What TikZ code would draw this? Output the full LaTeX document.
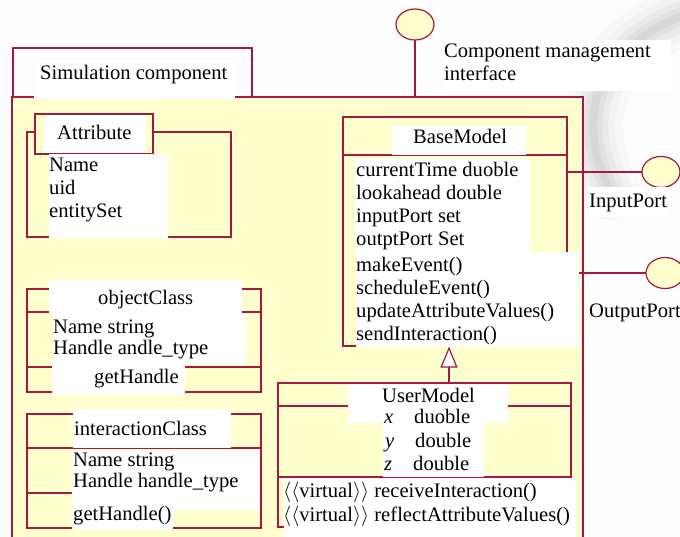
\documentclass[tikz,border=0pt]{standalone}
\usepackage{fontspec}
\setmainfont{Liberation Serif}
\usetikzlibrary{shapes.geometric,arrows.meta}
\definecolor{umlline}{RGB}{165,24,66}
\definecolor{umlfill}{RGB}{255,255,206}
\definecolor{paper}{RGB}{253,253,253}
\begin{document}
\begin{tikzpicture}[x=1pt,y=-1pt,
  frame/.style={draw=umlline, line width=1.2pt, fill=umlfill, inner sep=0pt, outer sep=0pt, anchor=north west},
  plate/.style={fill=white, inner sep=0pt, outer sep=0pt, anchor=north west},
  txt/.style={inner sep=0pt, anchor=base west, font=\fontsize{20.6}{23}\selectfont},
  wire/.style={draw=umlline, line width=1.2pt},
  port/.style={ellipse, draw=umlline, line width=1.2pt, fill=umlfill, minimum width=38pt, minimum height=31pt, inner sep=0pt, outer sep=0pt},
  inherit/.style={wire, -{Triangle[fill=white, length=21pt, width=17pt, line width=1.2pt]}},
  haze/.style={draw=black, line cap=round}]
\fill[paper] (0,0) rectangle (680,537);
\useasboundingbox (0,0) rectangle (680,537);

% soft grey swoosh in the paper background
\foreach \w/\o in {60/0.02, 44/0.025, 30/0.03, 18/0.035, 8/0.04}
  \draw[haze, line width=\w pt, opacity=\o]
    (700,10) .. controls (630,30) and (560,90) .. (610,190);

% component package with its tab
\node[frame, fill=paper, minimum width=239, minimum height=49] (tab) at (13,48) {};
\node[frame, minimum width=571, minimum height=445] (comp) at (12,97) {};
\node[plate, minimum width=201, minimum height=38] (tabplate) at (34,61) {};
\node[txt] (tablabel) at (40,80) {Simulation component};

% component management interface
\node[port] (cmi) at (415,24.5) {};
\draw[wire] (cmi) -- (cmi |- comp.north);
\node[plate, minimum width=228, minimum height=51] (cmiplate) at (443,40) {};
\node[txt] (cmi1) at (444,58) {Component management};
\node[txt] (cmi2) at (444,81) {interface};

% Attribute
\node[frame, minimum width=204, minimum height=105] (attrbody) at (27,132) {};
\node[frame, minimum width=118, minimum height=40] (attrtab) at (35,114) {};
\node[plate, minimum width=102, minimum height=38] (attrplate) at (44,115) {};
\node[txt] (attrname) at (57,140) {Attribute};
\node[plate, minimum width=119, minimum height=84] (attrlist) at (49,154) {};
\node[txt] (attr1) at (49,172) {Name};
\node[txt] (attr2) at (49,195) {uid};
\node[txt] (attr3) at (49,218) {entitySet};

% BaseModel
\node[frame, minimum width=224, minimum height=229] (base) at (343,117) {};
\draw[wire] (343,155) -- (567,155);
\node[plate, minimum width=134, minimum height=29] (baseplate) at (392,126) {};
\node[txt] (basename) at (413,144) {BaseModel};
\node[plate, minimum width=175, minimum height=93] (baseattr) at (355,159) {};
\node[txt] (ba1) at (356,177) {currentTime duoble};
\node[txt] (ba2) at (356,200) {lookahead double};
\node[txt] (ba3) at (356,223) {inputPort set};
\node[txt] (ba4) at (356,246) {outptPort Set};
\node[plate, minimum width=223, minimum height=95] (baseops) at (356,252) {};
\node[txt] (bo1) at (356,272) {makeEvent()};
\node[txt] (bo2) at (356,295) {scheduleEvent()};
\node[txt] (bo3) at (356,318) {updateAttributeValues()};
\node[txt] (bo4) at (356,341) {sendInteraction()};

% ports
\node[port] (inport) at (661,172) {};
\draw[wire] (base.east |- inport) -- (inport);
\node[plate, minimum width=79, minimum height=30] (inplate) at (588,187) {};
\node[txt] (inlabel) at (589,208) {InputPort};
\node[port] (outport) at (665,273) {};
\draw[wire] (baseops.east |- outport) -- (outport);
\node[txt] (outlabel) at (589,318) {OutputPort};

% objectClass
\node[frame, minimum width=234, minimum height=103] (objcls) at (27,289) {};
\draw[wire] (27,312) -- (261,312);
\draw[wire] (27,367) -- (261,367);
\node[plate, minimum width=193, minimum height=33] (objplate) at (49,280) {};
\node[txt] (objname) at (98,305) {objectClass};
\node[plate, minimum width=193, minimum height=50] (objattr) at (53,313.5) {};
\node[txt] (oa1) at (53,334) {Name string};
\node[txt] (oa2) at (53,354) {Handle andle\_type};
\node[plate, minimum width=133, minimum height=32] (objops) at (52,363) {};
\node[txt] (oo1) at (94,383) {getHandle};

% interactionClass
\node[frame, minimum width=234, minimum height=114] (intcls) at (27,414) {};
\draw[wire] (27,448) -- (261,448);
\draw[wire] (27,493) -- (261,493);
\node[plate, minimum width=158, minimum height=39] (intplate) at (73,409) {};
\node[txt] (intname) at (74,435) {interactionClass};
\node[plate, minimum width=188, minimum height=60] (intattr) at (72,449.5) {};
\node[txt] (ia1) at (73,466) {Name string};
\node[txt] (ia2) at (73,487) {Handle handle\_type};
\node[plate, minimum width=101, minimum height=28] (intops) at (72,502) {};
\node[txt] (io1) at (73,520) {getHandle()};

% UserModel
\node[frame, minimum width=293, minimum height=144] (user) at (278,383) {};
\draw[wire] (278,406) -- (571,406);
\draw[wire] (278,477) -- (571,477);
\node[plate, minimum width=160, minimum height=39] (userplate) at (348,383.6) {};
\node[txt] (username) at (382,402) {UserModel};
\node[plate, minimum width=101, minimum height=55] (userattr) at (383,422) {};
\node[txt] (ux) at (384,423) {\textit{x}};
\node[txt] (uxt) at (414,423) {duoble};
\node[txt] (uy) at (385,447) {\textit{y}};
\node[txt] (uyt) at (415,447) {double};
\node[txt] (uz) at (384,470) {\textit{z}};
\node[txt] (uzt) at (413,470) {double};
\node[plate, minimum width=292, minimum height=62] (userops) at (284,477.6) {};
\node[txt] (uo1) at (283,497) {$\langle\langle$virtual$\rangle\rangle$ receiveInteraction()};
\node[txt] (uo2) at (283,521) {$\langle\langle$virtual$\rangle\rangle$ reflectAttributeValues()};

% generalization UserModel -> BaseModel
\coordinate (apex) at (449,346.6);
\draw[inherit] (user.north -| apex) -- (apex);
\end{tikzpicture}
\end{document}
